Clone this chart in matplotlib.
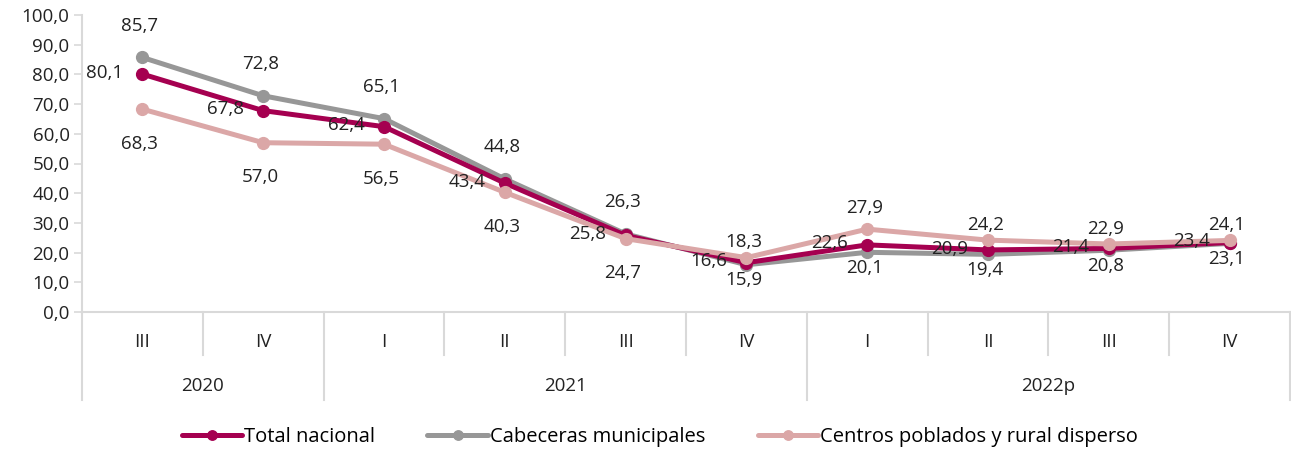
import numpy as np
import matplotlib
matplotlib.use("Agg")
import matplotlib.pyplot as plt
from matplotlib.ticker import FuncFormatter

plt.rcParams['font.family'] = ['Open Sans', 'DejaVu Sans']

quarters = ["III", "IV", "I", "II", "III", "IV", "I", "II", "III", "IV"]
years = ["2020", "2021", "2022p"]
year_spans = [(0, 1), (2, 5), (6, 9)]

total_nacional = [80.1, 67.8, 62.4, 43.4, 25.8, 16.6, 22.6, 20.9, 21.4, 23.4]
cabeceras = [85.7, 72.8, 65.1, 44.8, 26.3, 15.9, 20.1, 19.4, 20.8, 23.1]
centros = [68.3, 57.0, 56.5, 40.3, 24.7, 18.3, 27.9, 24.2, 22.9, 24.1]

# vertical label offsets in points (0 -> label on the left of the marker)
dy_total = [0] * 10
dy_cab = [23] * 5 + [-11] * 5
dy_cen = [-25] * 5 + [11, 15, 11, 11, 11]

c_total = "#A50050"
c_cab = "#979797"
c_cen = "#DBA7A7"
txt = "#222222"
grid_c = "#D9D9D9"
FS = 13.5


def fmt(v):
    return f"{v:.1f}".replace(".", ",")


fig = plt.figure(figsize=(12.91, 4.5), dpi=100)
ax = fig.add_axes([82 / 1291, 1 - 312 / 450, (1290 - 82) / 1291, 297 / 450])

x = np.arange(len(quarters))
series = [
    (cabeceras, c_cab, "Cabeceras municipales", dy_cab, 2),
    (total_nacional, c_total, "Total nacional", dy_total, 3),
    (centros, c_cen, "Centros poblados y rural disperso", dy_cen, 4),
]
handles = {}
for vals, col, name, offsets, z in series:
    ln, = ax.plot(x, vals, color=col, lw=3.6, marker="o", ms=8.5, label=name,
                  zorder=z, solid_capstyle="round")
    handles[name] = ln
    for xi, v, dy in zip(x, vals, offsets):
        if dy == 0:
            off, ha = (-14, 1), "right"
        else:
            off, ha = (-2, dy), "center"
        ax.annotate(fmt(v), (xi, v), xytext=off, textcoords="offset points",
                    ha=ha, va="center", fontsize=FS, color=txt, zorder=6)

ax.set_xlim(-0.5, len(quarters) - 0.5)
ax.set_ylim(0, 100)
ax.set_yticks(np.arange(0, 101, 10))
ax.yaxis.set_major_formatter(FuncFormatter(lambda v, p: fmt(v)))
ax.tick_params(axis="y", labelsize=FS, colors=grid_c, labelcolor=txt,
               length=6, width=1.2, pad=3)
ax.set_xticks([])
for s in ["top", "right"]:
    ax.spines[s].set_visible(False)
for s in ["left", "bottom"]:
    ax.spines[s].set_color(grid_c)
    ax.spines[s].set_linewidth(1.5)

trans = ax.get_xaxis_transform()
# quarter labels and separators
for xi, q in zip(x, quarters):
    ax.text(xi, -0.10, q, transform=trans, ha="center", va="center",
            fontsize=FS, color=txt)
year_edges = set()
for a, b in year_spans:
    year_edges.add(a - 0.5)
    year_edges.add(b + 0.5)
for b in np.arange(-0.5, len(quarters), 1.0):
    bottom = -0.296 if b in year_edges else -0.145
    ax.plot([b, b], [0, bottom], transform=trans, color=grid_c, lw=1.5,
            clip_on=False)
for (a, b), yr in zip(year_spans, years):
    ax.text((a + b) / 2, -0.25, yr, transform=trans, ha="center", va="center",
            fontsize=FS, color=txt)

names = ["Total nacional", "Cabeceras municipales", "Centros poblados y rural disperso"]
fig.legend([handles[n] for n in names], names, loc="center",
           bbox_to_anchor=(0.511, 1 - 437 / 450), ncol=3, frameon=False,
           fontsize=14.5, handlelength=3.0, handletextpad=0.1, columnspacing=2.6,
           markerscale=0.8)

fig.savefig("out.png", dpi=100)
